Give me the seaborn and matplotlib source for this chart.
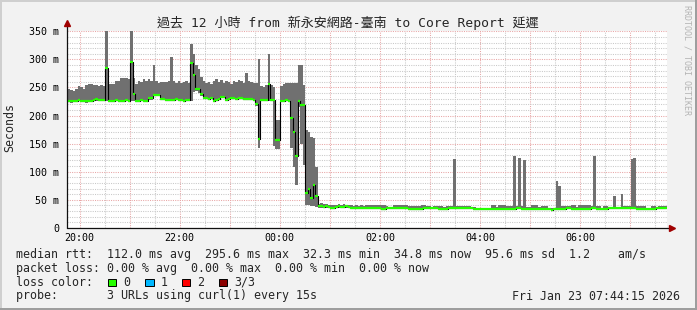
import numpy as np
import pandas as pd
import matplotlib
matplotlib.use("Agg")
import matplotlib.pyplot as plt
import seaborn as sns
from matplotlib.patches import Rectangle
from matplotlib.lines import Line2D
from matplotlib.ticker import MultipleLocator

# ---------------- data ----------------
# 3-minute consolidation bins, first bin starts 19:42:45 (hours since midnight of first day)
bin_start_hour = 19 + 42.75 / 60
bin_hours = 3 / 60

median_ms = [
    226, 226, 225, 226, 226, 227, 226, 226, 225, 226,
    226, 227, 230, 228, 227, 227, 285, 226, 226, 226,
    227, 226, 226, 226, 227, 226, 295.6, 239, 226, 226,
    227, 226, 226, 231, 231, 236, 236, 236, 229, 229,
    227, 227, 227, 228, 229, 228, 227, 226, 227, 227,
    294, 272, 248, 248, 239, 231, 231, 230, 231, 226,
    228, 230, 233, 233, 227, 230, 231, 231, 230, 231,
    231, 230, 229, 229, 229, 227, 220, 159, 227, 227,
    227, 256, 227, 227, 156, 156, 226, 226, 227, 226,
    195, 171, 127, 226, 219, 219, 62, 70, 53, 76,
    56, 38, 38, 37, 38, 37, 36, 36, 37, 38,
    37, 37, 38, 37, 36, 36, 35, 36, 36, 35,
    35, 35, 36, 35, 35, 35, 33, 33, 35, 35,
    35, 35, 36, 35, 35, 35, 35, 34, 34, 34,
    34, 34, 34, 35, 35, 35, 36, 36, 36, 34,
    34, 34, 34, 35, 35, 35, 35, 35, 35, 35,
    35, 35, 35, 33, 33, 33, 34, 34, 34, 34,
    34, 34, 34, 34, 34, 34, 34, 34, 34, 34,
    35, 35, 34, 34, 34, 34, 34, 33, 33, 34,
    34, 34, 33, 33, 32.3, 34, 34, 34, 34, 34,
    35, 35, 33, 33, 33, 34, 33, 33, 34, 34,
    35, 35, 34, 33, 33, 34, 34, 35, 35, 35,
    35, 35, 35, 35, 35, 35, 36, 36, 33, 33,
    34, 33, 33, 34, 33, 33, 35, 35, 35, 35,
    34.8,
]

smoke_hi_ms = [
    248, 248, 245, 244, 247, 252, 250, 247, 254, 257,
    256, 254, 255, 253, 254, 252, 350, 257, 257, 257,
    262, 262, 266, 266, 266, 265, 350, 267, 257, 262,
    260, 265, 262, 265, 262, 290, 262, 258, 260, 260,
    260, 262, 304, 262, 258, 261, 258, 260, 262, 258,
    328, 310, 290, 282, 268, 262, 258, 260, 257, 262,
    265, 260, 263, 258, 262, 260, 257, 262, 260, 264,
    261, 258, 275, 262, 260, 258, 258, 301, 252, 250,
    255, 310, 255, 250, 192, 192, 252, 256, 258, 258,
    258, 258, 258, 290, 290, 254, 174, 170, 162, 160,
    109, 43, 44, 43, 42, 41, 41, 40, 41, 42,
    41, 42, 41, 41, 40, 39, 40, 39, 40, 39,
    40, 40, 41, 41, 40, 40, 41, 41, 38, 37,
    37, 41, 41, 41, 41, 41, 41, 38, 38, 38,
    38, 38, 41, 41, 39, 39, 37, 38, 38, 39,
    39, 37, 39, 39, 39, 122, 39, 39, 39, 39,
    39, 39, 37, 37, 36, 36, 36, 36, 36, 36,
    40, 40, 37, 40, 40, 40, 39, 39, 39, 127,
    39, 124, 38, 120, 37, 37, 40, 40, 40, 37,
    38, 38, 38, 36, 36, 36, 84, 75, 38, 38,
    38, 38, 41, 41, 37, 40, 40, 40, 41, 41,
    38, 127, 39, 39, 36, 39, 39, 37, 37, 57,
    37, 37, 60, 38, 38, 38, 123, 125, 38, 38,
    39, 39, 36, 36, 39, 39, 37, 39, 39, 39,
    39,
]

smoke_lo_ms = [
    224, 224, 223, 224, 224, 225, 224, 224, 223, 224,
    224, 225, 226, 226, 225, 225, 225, 224, 224, 224,
    225, 224, 224, 224, 225, 224, 226, 226, 224, 224,
    225, 224, 224, 228, 228, 234, 234, 234, 227, 227,
    225, 225, 225, 226, 227, 226, 225, 224, 225, 225,
    226, 242, 243, 240, 235, 229, 229, 228, 229, 224,
    226, 228, 231, 231, 225, 228, 229, 229, 228, 229,
    229, 228, 227, 227, 227, 225, 217, 142, 225, 225,
    225, 225, 225, 145, 141, 141, 224, 224, 225, 224,
    142, 109, 76, 215, 150, 112, 40, 40, 38, 38,
    37, 36, 36, 35, 36, 35, 34, 34, 35, 36,
    35, 35, 36, 35, 34, 34, 33, 34, 34, 33,
    33, 33, 34, 33, 33, 33, 32, 32, 33, 33,
    33, 33, 34, 33, 33, 33, 33, 33, 33, 33,
    33, 33, 33, 33, 33, 33, 34, 34, 34, 33,
    33, 33, 33, 33, 33, 33, 33, 33, 33, 33,
    33, 33, 33, 32, 32, 32, 33, 33, 33, 33,
    33, 33, 33, 33, 33, 33, 33, 33, 33, 33,
    33, 33, 33, 33, 33, 33, 33, 32, 32, 33,
    33, 33, 32, 32, 32, 33, 33, 33, 33, 33,
    33, 33, 32, 32, 32, 33, 32, 32, 33, 33,
    33, 33, 33, 32, 32, 33, 33, 33, 33, 33,
    33, 33, 33, 33, 33, 33, 34, 34, 32, 32,
    33, 32, 32, 33, 32, 32, 33, 33, 33, 33,
    33,
]

x_tick_hours = [20, 21, 22, 23, 24, 25, 26, 27, 28, 29, 30, 31]
x_tick_labels = ["20:00", "", "22:00", "", "00:00", "", "02:00", "", "04:00", "", "06:00", ""]
y_tick_values = [0, 50, 100, 150, 200, 250, 300, 350]
y_tick_labels = ["0", "50 m", "100 m", "150 m", "200 m", "250 m", "300 m", "350 m"]
x_range_hours = [19 + 44.25 / 60, 31 + 44.25 / 60]
y_range_ms = [0, 350]

title_text = "過去 12 小時 from 新永安網路-臺南 to Core Report 延遲"
legend_rtt = "median rtt:  112.0 ms avg  295.6 ms max  32.3 ms min  34.8 ms now  95.6 ms sd  1.2    am/s"
legend_loss = "packet loss: 0.00 % avg  0.00 % max  0.00 % min  0.00 % now"
loss_color_labels = ["0", "1", "2", "3/3"]
loss_colors = ["#26ff00", "#00b8ff", "#ff0000", "#8b0000"]
probe_text = "probe:       3 URLs using curl(1) every 15s"
date_text = "Fri Jan 23 07:44:15 2026"

# ---------------- style ----------------
BACK = "#f2f2f2"
SMOKE = "#707070"
GREEN = "#26ff00"
GRID = "#c8c8c8"
MGRID = "#e8a6a6"
ARROW = "#a00000"

sns.set_style("white")
plt.rcParams["font.family"] = ["DejaVu Sans Mono", "Noto Sans CJK TC"]
plt.rcParams["axes.unicode_minus"] = False

W, H = 697, 310
fig = plt.figure(figsize=(W / 100, H / 100), dpi=100, facecolor=BACK)


def fx(px):
    return px / W


def fy(py):
    return 1 - py / H


ax_l, ax_r, ax_t, ax_b = 66.5, 667.0, 31.3, 227.8
ax = fig.add_axes([fx(ax_l), fy(ax_b), (ax_r - ax_l) / W, (ax_b - ax_t) / H])
ax.set_facecolor("white")

n = len(median_ms)
edges = bin_start_hour + bin_hours * np.arange(n + 1)
df = pd.DataFrame({"hour": edges[:-1], "median": median_ms,
                   "hi": smoke_hi_ms, "lo": smoke_lo_ms})

# smoke band
ax.stairs(df["hi"].values, edges, baseline=df["lo"].values, fill=True,
          color=SMOKE, linewidth=0, zorder=2)
# median: black step connectors + green level segments
sns.lineplot(data=df, x="hour", y="median", drawstyle="steps-post",
             color="black", linewidth=0.8, ax=ax, zorder=3)
ax.hlines(df["median"].values, edges[:-1], edges[1:], colors=GREEN,
          linewidth=1.6, zorder=4)

ax.set_xlim(*x_range_hours)
ax.set_ylim(*y_range_ms)
ax.set_xlabel("")
ax.set_ylabel("")

ax.set_xticks(x_tick_hours, x_tick_labels)
ax.xaxis.set_minor_locator(MultipleLocator(0.5))
ax.set_yticks(y_tick_values, y_tick_labels)
ax.yaxis.set_minor_locator(MultipleLocator(10))

ax.set_axisbelow(True)
ax.grid(which="major", color=MGRID, linestyle=(0, (1, 1.2)), linewidth=0.75)
ax.grid(which="minor", color=GRID, linestyle=(0, (1, 1.2)), linewidth=0.75)
ax.tick_params(axis="both", which="major", length=2, width=0.7, color="black",
               direction="out", labelsize=7.2, labelcolor="black")
ax.tick_params(axis="x", which="major", pad=1.8)
ax.tick_params(axis="y", which="major", pad=3.2)
ax.tick_params(which="minor", length=0)
for s in ax.spines.values():
    s.set_visible(False)

# axis lines with arrows
ax.plot([0, 1.004], [0, 0], transform=ax.transAxes, color="#101010",
        linewidth=0.9, clip_on=False, zorder=6)
ax.plot([0, 0], [0, 1.027], transform=ax.transAxes, color="#101010",
        linewidth=0.9, clip_on=False, zorder=6)
ax.plot([1.009], [0], marker=">", markersize=4.5, color=ARROW,
        transform=ax.transAxes, clip_on=False, zorder=7)
ax.plot([0], [1.04], marker="^", markersize=4.5, color=ARROW,
        transform=ax.transAxes, clip_on=False, zorder=7)

# texts
fig.text(fx(348), fy(22.5), title_text, ha="center", va="center", fontsize=9.4)
fig.text(fx(10), fy(128), "Seconds", rotation=90, ha="center", va="center", fontsize=8.4)
fig.text(fx(687.5), fy(60), "RRDTOOL / TOBI OETIKER", rotation=270, ha="center",
         va="center", fontsize=6, color="#b4b4b4")

fig.text(fx(16.4), fy(254.7), legend_rtt, ha="left", va="center", fontsize=8.4)
fig.text(fx(16.4), fy(268.3), legend_loss, ha="left", va="center", fontsize=8.4)
fig.text(fx(16.4), fy(282.3), "loss color:", ha="left", va="center", fontsize=8.4)
box_x = [108.0, 145.3, 182.0, 219.0]
for bx, c, lab in zip(box_x, loss_colors, loss_color_labels):
    fig.add_artist(Rectangle((fx(bx), fy(286.2)), 8.4 / W, 7.7 / H,
                             transform=fig.transFigure, facecolor=c,
                             edgecolor="black", linewidth=0.7))
    fig.text(fx(bx + 15.3), fy(282.3), lab, ha="left", va="center", fontsize=8.4)
fig.text(fx(16.4), fy(296.0), probe_text, ha="left", va="center", fontsize=8.4)
fig.text(fx(680.5), fy(296.0), date_text, ha="right", va="center", fontsize=8.4)

# 3D frame
fig.add_artist(Line2D([0, 1], [fy(1), fy(1)], transform=fig.transFigure,
                      color="#cfcfcf", linewidth=1.44))
fig.add_artist(Line2D([fx(1), fx(1)], [0, 1], transform=fig.transFigure,
                      color="#cfcfcf", linewidth=1.44))
fig.add_artist(Line2D([0, 1], [fy(H - 1), fy(H - 1)], transform=fig.transFigure,
                      color="#9e9e9e", linewidth=1.44))
fig.add_artist(Line2D([fx(W - 1), fx(W - 1)], [0, 1], transform=fig.transFigure,
                      color="#9e9e9e", linewidth=1.44))

fig.savefig("out.png", dpi=100, facecolor=BACK)
